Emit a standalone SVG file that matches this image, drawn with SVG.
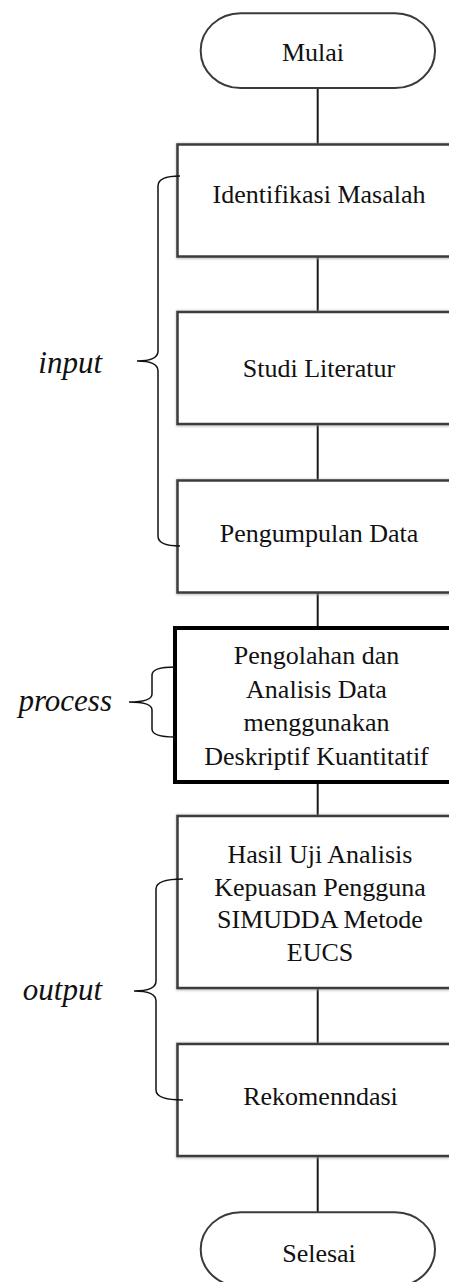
<svg xmlns="http://www.w3.org/2000/svg" width="449" height="1282" viewBox="0 0 449 1282">
<style>
.bg{fill:#ffffff}
.term{fill:#ffffff;stroke:#3a3a3a;stroke-width:2}
.box{fill:#ffffff;stroke:#3c3c3c;stroke-width:2.5}
.shadow{fill:none;stroke:#9a9a9a;stroke-width:4;opacity:0.6}
.pbox{fill:#ffffff;stroke:#000000;stroke-width:4}
.t{font-family:"Liberation Serif","Times New Roman",serif;font-size:26px;fill:#111111;text-anchor:middle}
.lbl{font-family:"Liberation Serif","Times New Roman",serif;font-size:31px;font-style:italic;fill:#111111;text-anchor:end}
.conn{stroke:#1a1a1a;stroke-width:2;fill:none}
.brace{stroke:#111111;stroke-width:1.5;fill:none}
</style>
<defs>
<filter id="blur" x="-10%" y="-10%" width="120%" height="120%"><feGaussianBlur stdDeviation="1.2"/></filter>
</defs>
<rect class="bg" x="0" y="0" width="449" height="1282"/>
<g id="connectors">
<line class="conn" x1="317.7" y1="88" x2="317.7" y2="144"/>
<line class="conn" x1="317.7" y1="256" x2="317.7" y2="312"/>
<line class="conn" x1="317.7" y1="424" x2="317.7" y2="481"/>
<line class="conn" x1="317.7" y1="592" x2="317.7" y2="628"/>
<line class="conn" x1="317.7" y1="782" x2="317.7" y2="816"/>
<line class="conn" x1="317.7" y1="988" x2="317.7" y2="1044"/>
<line class="conn" x1="317.7" y1="1156" x2="317.7" y2="1212"/>
</g>
<g id="start">
<rect class="term" x="200.7" y="13.3" width="234.3" height="74.7" rx="40" ry="37"/>
<text class="t" x="313" y="61">Mulai</text>
</g>
<g id="identifikasi">
<rect class="shadow" x="178" y="145" width="290" height="112" filter="url(#blur)"/>
<rect class="box" x="177.5" y="144.5" width="290" height="112"/>
<text class="t" x="319" y="203">Identifikasi Masalah</text>
</g>
<g id="studi">
<rect class="shadow" x="178" y="312.5" width="290" height="112" filter="url(#blur)"/>
<rect class="box" x="177.5" y="312" width="290" height="112"/>
<text class="t" x="319" y="377">Studi Literatur</text>
</g>
<g id="pengumpulan">
<rect class="shadow" x="178" y="481" width="290" height="112" filter="url(#blur)"/>
<rect class="box" x="177.5" y="480.5" width="290" height="112"/>
<text class="t" x="319" y="542">Pengumpulan Data</text>
</g>
<g id="pengolahan">
<rect class="pbox" x="175" y="628" width="290" height="154"/>
<text class="t" x="316.5" y="664">Pengolahan dan</text>
<text class="t" x="316.5" y="697.5">Analisis Data</text>
<text class="t" x="316.5" y="731">menggunakan</text>
<text class="t" x="316.5" y="765">Deskriptif Kuantitatif</text>
</g>
<g id="hasil">
<rect class="shadow" x="178" y="816.5" width="290" height="172" filter="url(#blur)"/>
<rect class="box" x="177.5" y="816" width="290" height="172"/>
<text class="t" x="320" y="863">Hasil Uji Analisis</text>
<text class="t" x="320" y="895.5">Kepuasan Pengguna</text>
<text class="t" x="320" y="928">SIMUDDA Metode</text>
<text class="t" x="320" y="960.5">EUCS</text>
</g>
<g id="rekomendasi">
<rect class="shadow" x="178" y="1044.5" width="290" height="112" filter="url(#blur)"/>
<rect class="box" x="177.5" y="1044" width="290" height="112"/>
<text class="t" x="320.5" y="1105">Rekomenndasi</text>
</g>
<g id="end">
<rect class="term" x="200.7" y="1212.3" width="234.3" height="74" rx="40" ry="37"/>
<text class="t" x="319" y="1262">Selesai</text>
</g>
<g id="input-brace">
<path class="brace" d="M180,176 Q158,176 158,186 L158,351 Q158,361 137,361 Q158,361 158,371 L158,536 Q158,546 180,546"/>
<text class="lbl" x="102" y="373">input</text>
</g>
<g id="process-brace">
<path class="brace" d="M175,667 Q152,667 152,675 L152,694 Q152,702 129,702 Q152,702 152,710 L152,729 Q152,737 175,737"/>
<text class="lbl" x="112" y="711">process</text>
</g>
<g id="output-brace">
<path class="brace" d="M183,879 Q156,879 156,889 L156,981 Q156,991 134,991 Q156,991 156,1001 L156,1090 Q156,1100 183,1100"/>
<text class="lbl" x="102" y="1000">output</text>
</g>
</svg>
